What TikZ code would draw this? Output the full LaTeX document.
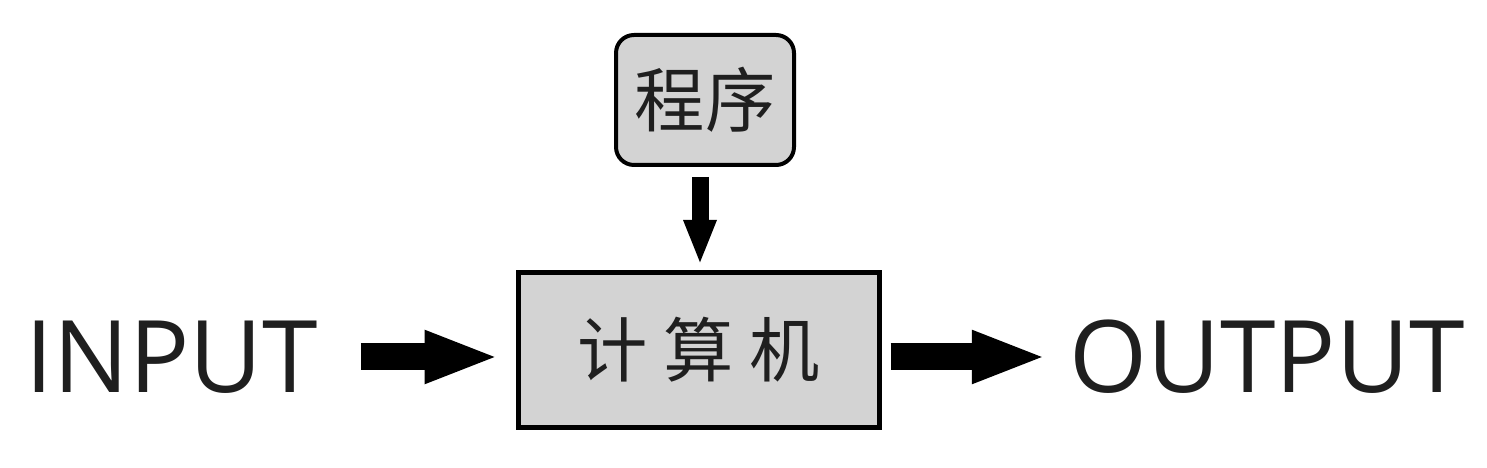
\documentclass[tikz,border=0pt]{standalone}
\usepackage{fontspec}
\setmainfont{Open Sans}
\newfontfamily\cjk{Noto Sans CJK SC}
\usetikzlibrary{arrows.meta}
\definecolor{boxgray}{RGB}{211,211,211}

\begin{document}
\begin{tikzpicture}[>={Triangle[length=0.75cm,width=0.48cm]},
    big arrow/.style={->,line width=0.27cm},
    box node/.style={draw,fill=boxgray,text=black!88,inner sep=0pt,font=\cjk\fontsize{20}{24}\selectfont},
    label node/.style={inner sep=0pt,text=black!88,font=\fontsize{28.5}{34}\selectfont}]
                        \useasboundingbox (0,0) rectangle (14.87,4.68);
                        \node[box node,line width=0.05cm,minimum width=3.61cm,minimum height=1.55cm] (comp) at (6.99,1.18) {计\ 算\ 机};
                        \node[box node,line width=0.04cm,rounded corners=0.18cm,minimum width=1.78cm,minimum height=1.30cm] (prog) at (7.05,3.68) {程序};
                        \node[label node] (in) at (1.72,1.11) {INPUT};
                        \node[label node] (out) at (12.67,1.11) {OUTPUT};
                        \draw[big arrow,shorten <=0.42cm,shorten >=0.165cm] (in.east) -- (in.east -| comp.west);
                        \draw[big arrow,shorten <=0.085cm,shorten >=0.22cm] (out.west -| comp.east) -- (out.west);
                        \draw[->,line width=0.17cm,>={Triangle[length=0.45cm,width=0.30cm]},shorten <=0.10cm,shorten >=0.05cm] (prog.south -| 7.0,0) -- (comp.north -| 7.0,0);
                        \end{tikzpicture}
\end{document}
